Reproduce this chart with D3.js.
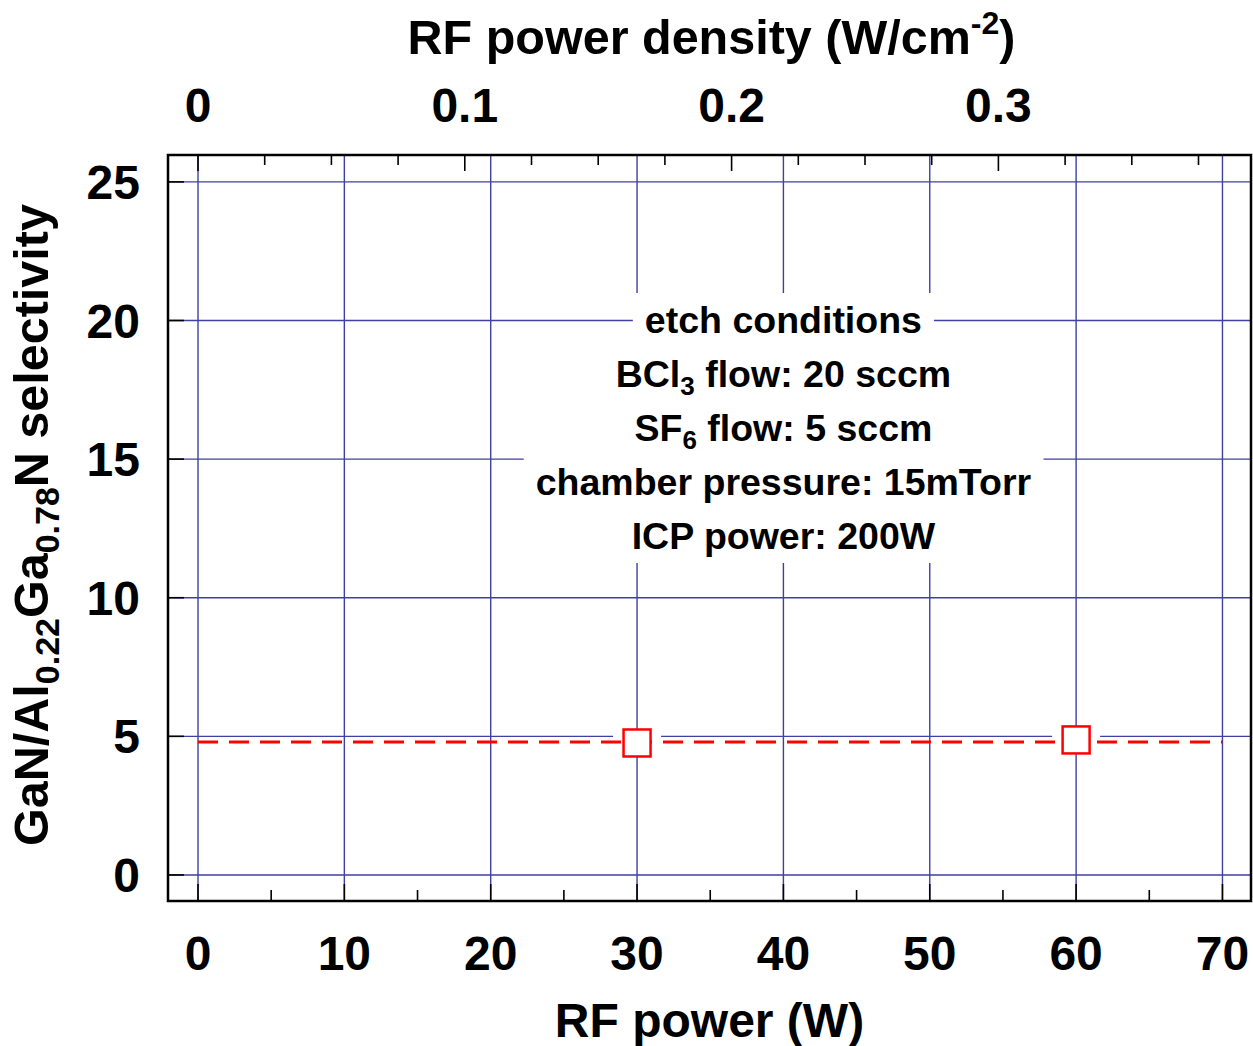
<!DOCTYPE html>
<html>
<head>
<meta charset="utf-8">
<script src="https://cdn.jsdelivr.net/npm/d3@7"></script>
<style>
  body { margin: 0; background: #fff; }
  text { font-family: "Liberation Sans", Arial, Helvetica, sans-serif; font-weight: bold; fill: #000; }
</style>
</head>
<body>
<div id="chart"></div>
<script>
// measured points
var rfPower = [30, 60];
var selectivity = [4.76, 4.87];
// dashed guide (average level)
var fitPower = [0, 70];
var fitSelectivity = [4.8, 4.8];

var xTicks = [0, 10, 20, 30, 40, 50, 60, 70];
var xMinor = [5, 15, 25, 35, 45, 55, 65];
var yTicks = [0, 5, 10, 15, 20, 25];
var densityTicks = [0, 0.1, 0.2, 0.3];
var densityMinor = [0.025, 0.05, 0.075, 0.125, 0.15, 0.175, 0.225, 0.25, 0.275, 0.325, 0.35, 0.375];
var powerPerDensity = 182.3;   // W per (W/cm2), electrode area

var conditions = [
	[{t:"etch conditions"}],
	[{t:"BCl"},{t:"3",sub:true},{t:" flow: 20 sccm"}],
	[{t:"SF"},{t:"6",sub:true},{t:" flow: 5 sccm"}],
	[{t:"chamber pressure: 15mTorr"}],
	[{t:"ICP power: 200W"}]
];

var width = 1253, height = 1046;
var pLeft = 168, pRight = 1251, pTop = 155, pBottom = 901;
var gridColor = "#1f1f92";

var svg = d3.select("#chart")
	.append("svg")
	.attr("width", width)
	.attr("height", height);

var x = d3.scaleLinear().domain([-2.05, 71.95]).range([pLeft, pRight]);
var y = d3.scaleLinear().domain([-0.94, 25.97]).range([pBottom, pTop]);
var xTop = d3.scaleLinear()
	.domain([x.domain()[0]/powerPerDensity, x.domain()[1]/powerPerDensity])
	.range([pLeft, pRight]);

// grid
var grid = svg.append("g").attr("stroke", gridColor).attr("stroke-width", 1.4).attr("opacity", 0.85);
grid.selectAll(".vg").data(xTicks).enter().append("line")
	.attr("x1", d => x(d)).attr("x2", d => x(d))
	.attr("y1", pTop).attr("y2", pBottom);
grid.selectAll(".hg").data(yTicks).enter().append("line")
	.attr("x1", pLeft).attr("x2", pRight)
	.attr("y1", d => y(d)).attr("y2", d => y(d));

// ticks
var ticks = svg.append("g").attr("stroke", "#000").attr("stroke-width", 1.6);
ticks.selectAll(".bt").data(xTicks.map(d => [d, 17]).concat(xMinor.map(d => [d, 11]))).enter().append("line")
	.attr("x1", d => x(d[0])).attr("x2", d => x(d[0]))
	.attr("y1", pBottom).attr("y2", d => pBottom - d[1]);
ticks.selectAll(".tt").data(densityTicks.map(d => [d, 16]).concat(densityMinor.map(d => [d, 10]))).enter().append("line")
	.attr("x1", d => xTop(d[0])).attr("x2", d => xTop(d[0]))
	.attr("y1", pTop).attr("y2", d => pTop + d[1]);
ticks.selectAll(".lt").data(yTicks).enter().append("line")
	.attr("x1", pLeft).attr("x2", pLeft + 16)
	.attr("y1", d => y(d)).attr("y2", d => y(d));

// annotation block with white backing per line
var note = svg.append("g");
var lineH = 54, noteTop = 293;
conditions.forEach(function(parts, i){
	var cy = noteTop + lineH*i + lineH/2;
	var bg = note.append("rect").attr("fill", "#fff");
	var t = note.append("text")
		.attr("x", x(40))
		.attr("y", cy + 13)
		.attr("text-anchor", "middle")
		.attr("font-size", 37.5);
	parts.forEach(function(p){
		var s = t.append("tspan").text(p.t);
		if (p.sub) s.attr("font-size", 26).attr("dy", 8);
		else if (t.selectAll("tspan").size() > 1) s.attr("dy", -8);
	});
	var bb = t.node().getBBox();
	bg.attr("x", bb.x - 12).attr("width", bb.width + 24)
		.attr("y", cy - lineH/2).attr("height", lineH);
});

// points: white backing, dashed guide, squares
var sq = 27;
svg.selectAll(".pbg").data(rfPower).enter().append("rect")
	.attr("fill", "#fff")
	.attr("x", d => x(d) - 24).attr("width", 48)
	.attr("y", (d, i) => y(selectivity[i]) - sq/2).attr("height", sq);

var line = d3.line().x(d => x(d[0])).y(d => y(d[1]));
svg.append("path")
	.datum(fitPower.map((d, i) => [d, fitSelectivity[i]]))
	.attr("d", line)
	.attr("fill", "none")
	.attr("stroke", "#ff0000")
	.attr("stroke-width", 3)
	.attr("stroke-dasharray", "20,11");

svg.selectAll(".pt").data(rfPower).enter().append("rect")
	.attr("fill", "#fff")
	.attr("stroke", "#ff0000")
	.attr("stroke-width", 2.5)
	.attr("x", d => x(d) - sq/2).attr("width", sq)
	.attr("y", (d, i) => y(selectivity[i]) - sq/2).attr("height", sq);

// frame
svg.append("rect")
	.attr("x", pLeft).attr("y", pTop)
	.attr("width", pRight - pLeft).attr("height", pBottom - pTop)
	.attr("fill", "none").attr("stroke", "#000").attr("stroke-width", 2.5);

// tick labels
svg.selectAll(".xl").data(xTicks).enter().append("text")
	.attr("x", d => x(d)).attr("y", 970)
	.attr("text-anchor", "middle").attr("font-size", 48)
	.text(d => d);
svg.selectAll(".yl").data(yTicks).enter().append("text")
	.attr("x", 140).attr("y", d => y(d) + 17)
	.attr("text-anchor", "end").attr("font-size", 48)
	.text(d => d);
svg.selectAll(".dl").data(densityTicks).enter().append("text")
	.attr("x", d => xTop(d)).attr("y", 122)
	.attr("text-anchor", "middle").attr("font-size", 48)
	.text(d => d);

// axis titles
svg.append("text")
	.attr("x", (pLeft + pRight)/2).attr("y", 1037)
	.attr("text-anchor", "middle").attr("font-size", 48)
	.text("RF power (W)");

var tTop = svg.append("text")
	.attr("x", (pLeft + pRight)/2 + 2).attr("y", 54)
	.attr("text-anchor", "middle").attr("font-size", 48.5);
tTop.append("tspan").text("RF power density (W/cm");
tTop.append("tspan").attr("dy", -20).attr("font-size", 32).text("-2");
tTop.append("tspan").attr("dy", 20).text(")");

var yt = svg.append("text")
	.attr("transform", "translate(48,525) rotate(-90)")
	.attr("text-anchor", "middle").attr("font-size", 48.5);
yt.append("tspan").text("GaN/Al");
yt.append("tspan").attr("dy", 11).attr("font-size", 34).text("0.22");
yt.append("tspan").attr("dy", -11).text("Ga");
yt.append("tspan").attr("dy", 11).attr("font-size", 34).text("0.78");
yt.append("tspan").attr("dy", -11).text("N selectivity");
</script>
</body>
</html>
